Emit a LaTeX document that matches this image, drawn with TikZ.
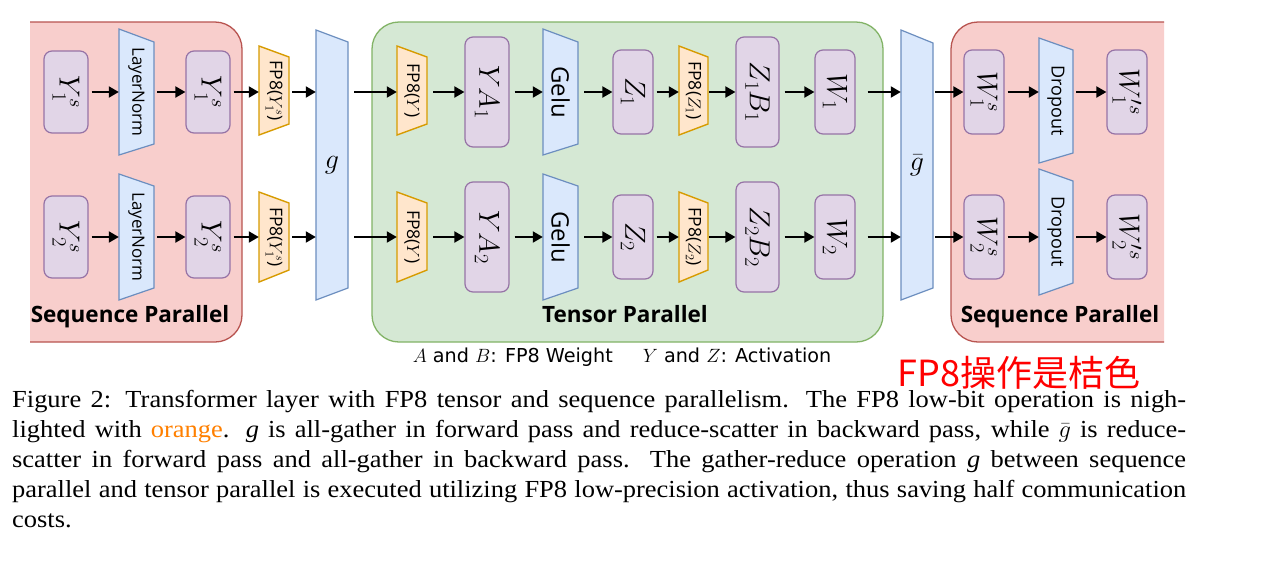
\RequirePackage{fix-cm}
\documentclass[tikz,border=0pt]{standalone}
\usepackage{fontspec}
\newfontfamily\osans{Open Sans}
\newfontfamily\dsans{DejaVu Sans}
\newfontfamily\capfont[FakeStretch=1.08]{Liberation Serif}
\newfontfamily\cjk{Noto Sans CJK SC}
\usetikzlibrary{arrows.meta}
\definecolor{redfill}{HTML}{F8CECC}
\definecolor{redline}{HTML}{B85450}
\definecolor{greenfill}{HTML}{D5E8D4}
\definecolor{greenline}{HTML}{82B366}
\definecolor{purfill}{HTML}{E1D5E7}
\definecolor{purline}{HTML}{9673A6}
\definecolor{bluefill}{HTML}{DAE8FC}
\definecolor{blueline}{HTML}{6C8EBF}
\definecolor{orfill}{HTML}{FFE6CC}
\definecolor{orline}{HTML}{D79B00}
\definecolor{capor}{HTML}{FF8000}
\tikzset{
  pbox/.style={draw=purline, fill=purfill, line width=1.2pt, rounded corners=8pt, inner sep=0pt},
  bluetrap/.style={draw=blueline, fill=bluefill, line width=1.2pt},
  ortrap/.style={draw=orline, fill=orfill, line width=1.4pt},
  arr/.style={line width=2pt, -{Triangle[length=10pt,width=11pt]}, shorten <=3pt},
  mlab/.style={rotate=-90, font=\fontsize{29}{34}\selectfont, inner sep=0pt},
  slab/.style={rotate=-90, inner sep=0pt},
  title/.style={font=\osans\bfseries\fontsize{22.5}{26}\selectfont, inner sep=0pt},
  capline/.style={font=\capfont\fontsize{24.5}{30}\selectfont, inner sep=0pt, anchor=base west},
  region/.style={line width=1.3pt, rounded corners=27pt},
}
\newcommand\pbx[6]{%
  \node[pbox, minimum width={(#3-#2)*1pt}, minimum height={(#5-#4)*1pt}] (#1) at ({(#2+#3)/2},{(#4+#5)/2}) {};
  \node[mlab] at (#1) {$#6$};
}
\newcommand\trp[9]{%
  \draw[#2] (#3,#5) -- (#4,#7) -- (#4,#8) -- (#3,#6) -- cycle;
  \node[inner sep=0pt, minimum width={(#4-#3)*1pt}, minimum height={(#6-#5)*1pt}] (#1) at ({(#3+#4)/2},{(#5+#6)/2}) {};
  \node[slab] at (#1) {#9};
}
\newcommand\fpl[1]{{\osans\fontsize{17.5}{20}\selectfont FP8($#1$)}}
\newcommand\bll[2]{{\osans\fontsize{#1}{#1}\selectfont #2}}
\begin{document}
\begin{tikzpicture}[x=1pt,y=-1pt]
\useasboundingbox (0,0) rectangle (1264,566);
\fill[white] (0,0) rectangle (1264,566);
% regions
\begin{scope}
  \clip (30,0) rectangle (400,566);
  \draw[region, fill=redfill, draw=redline] (0,22) rectangle (242,342);
\end{scope}
\draw[region, fill=greenfill, draw=greenline] (372,22) rectangle (883,342);
\begin{scope}
  \clip (900,0) rectangle (1164,566);
  \draw[region, fill=redfill, draw=redline] (951,22) rectangle (1200,342);
\end{scope}
% big bars
\trp{g}{bluetrap}{316}{348}{30}{300}{42}{288}{}
\node[font=\fontsize{28}{32}\selectfont] at (g) {$g$};
\trp{gb}{bluetrap}{901}{933}{30}{300}{43}{288}{}
\node[font=\fontsize{28}{32}\selectfont] at (gb) {$\bar{g}$};
% row 1
\pbx{ya1}{44}{88}{51}{133}{Y_1^s}
\trp{ln1}{bluetrap}{119}{154}{29}{155}{42}{144}{\bll{17}{LayerNorm}}
\pbx{yb1}{186}{230}{51}{133}{Y_1^s}
\trp{fa1}{ortrap}{259}{289}{46}{135}{57}{124}{\fpl{Y_1^s}}
\trp{fy1}{ortrap}{397}{427}{46}{135}{57}{124}{\fpl{Y}}
\pbx{yA1}{465}{509}{37}{147}{YA_1}
\trp{ge1}{bluetrap}{543}{578}{29}{155}{42}{144}{\bll{24}{Gelu}}
\pbx{z1}{613}{653}{50}{134}{Z_1}
\trp{fz1}{ortrap}{679}{708}{46}{135}{57}{124}{\fpl{Z_1}}
\pbx{zb1}{736}{779}{37}{147}{Z_1B_1}
\pbx{w1}{815}{855}{50}{134}{W_1}
\pbx{ws1}{964}{1004}{50}{134}{W_1^s}
\trp{dr1}{bluetrap}{1039}{1073}{38}{163}{50}{153}{\bll{18}{Dropout}}
\pbx{wp1}{1107}{1147}{50}{134}{W_1^{\prime s}}
% row 2
\pbx{ya2}{44}{88}{196}{278}{Y_2^s}
\trp{ln2}{bluetrap}{119}{154}{174}{300}{186}{288}{\bll{17}{LayerNorm}}
\pbx{yb2}{186}{230}{196}{278}{Y_2^s}
\trp{fa2}{ortrap}{259}{289}{192}{282}{203}{270}{\fpl{Y_1^s}}
\trp{fy2}{ortrap}{397}{427}{192}{282}{203}{270}{\fpl{Y}}
\pbx{yA2}{465}{509}{182}{292}{YA_2}
\trp{ge2}{bluetrap}{543}{578}{174}{300}{186}{288}{\bll{24}{Gelu}}
\pbx{z2}{613}{653}{195}{279}{Z_2}
\trp{fz2}{ortrap}{679}{708}{192}{282}{203}{270}{\fpl{Z_2}}
\pbx{zb2}{736}{779}{182}{292}{Z_2B_2}
\pbx{w2}{815}{855}{195}{279}{W_2}
\pbx{ws2}{964}{1004}{195}{279}{W_2^s}
\trp{dr2}{bluetrap}{1039}{1073}{169}{295}{181}{283}{\bll{18}{Dropout}}
\pbx{wp2}{1107}{1147}{195}{279}{W_2^{\prime s}}
% arrows
\foreach \r in {1,2}{
  \draw[arr] (ya\r.east) -- (ya\r.east -| ln\r.west);
  \draw[arr] (yb\r.west -| ln\r.east) -- (yb\r.west);
  \draw[arr] (yb\r.east) -- (yb\r.east -| fa\r.west);
  \draw[arr] (yb\r.east -| fa\r.east) -- (yb\r.east -| g.west);
  \draw[arr, shorten <=6pt] (ya\r.east -| g.east) -- (ya\r.east -| fy\r.west);
  \draw[arr, shorten <=6pt] (ya\r.east -| fy\r.east) -- (ya\r.east -| yA\r.west);
  \draw[arr, shorten <=5pt] (ya\r.east -| yA\r.east) -- (ya\r.east -| ge\r.west);
  \draw[arr, shorten <=6pt] (z\r.west -| ge\r.east) -- (z\r.west);
  \draw[arr] (z\r.east) -- (z\r.east -| fz\r.west);
  \draw[arr, shorten <=1pt] (z\r.east -| fz\r.east) -- (z\r.east -| zb\r.west);
  \draw[arr, shorten <=5pt] (w\r.west -| zb\r.east) -- (w\r.west);
  \draw[arr, shorten <=12pt] (w\r.east) -- (w\r.east -| gb.west);
  \draw[arr, shorten <=2pt] (ws\r.west -| gb.east) -- (ws\r.west);
  \draw[arr] (ws\r.east) -- (ws\r.east -| dr\r.west);
  \draw[arr] (wp\r.west -| dr\r.east) -- (wp\r.west);
}
% titles
\node[title, anchor=base] (t1) at (130,322) {Sequence Parallel};
\node[title, anchor=base] (t2) at (625,322) {Tensor Parallel};
\node[title, anchor=base] (t3) at (1060,322) {Sequence Parallel};
% legend
\node[font=\dsans\fontsize{19.2}{22}\selectfont, anchor=base, inner sep=0pt] (leg) at (622,362)
  {$A$ and $B$: FP8 Weight\hspace{30pt}$Y$ and $Z$: Activation};
\node[font=\cjk\fontsize{36}{40}\selectfont, text=red, anchor=base, inner sep=0pt] (note) at (1019,386) {FP8操作是桔色};
% caption
\node[capline] (c1) at (12,407) {\makebox[1174pt][s]{Figure 2: Transformer layer with FP8 tensor and sequence parallelism. The FP8 low-bit operation is nigh-}};
\node[capline] (c2) at (12,437) {\makebox[1174pt][s]{lighted with \textcolor{capor}{orange}. \textit{g} is all-gather in forward pass and reduce-scatter in backward pass, while $\bar{g}$ is reduce-}};
\node[capline] (c3) at (12,467) {\makebox[1174pt][s]{scatter in forward pass and all-gather in backward pass. The gather-reduce operation \textit{g} between sequence}};
\node[capline] (c4) at (12,497) {\makebox[1174pt][s]{parallel and tensor parallel is executed utilizing FP8 low-precision activation, thus saving half communication}};
\node[capline] (c5) at (12,527) {costs.};
\end{tikzpicture}
\end{document}
